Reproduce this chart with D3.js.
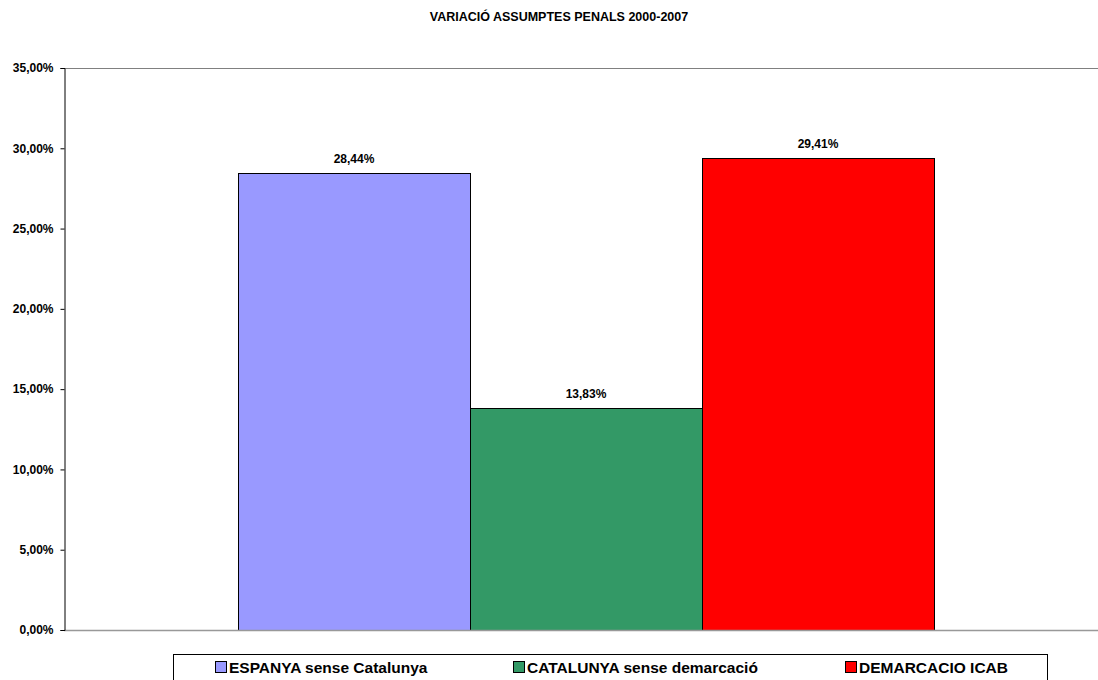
<!DOCTYPE html>
<html><head><meta charset="utf-8">
<script src="https://cdn.jsdelivr.net/npm/d3@7"></script>
<style>body{margin:0;background:#fff;}svg{display:block;font-family:Arial,"Liberation Sans",sans-serif;}</style>
</head><body>
<svg id="c" width="1098" height="680"></svg>
<script>
const title = "VARIACIÓ ASSUMPTES PENALS 2000-2007";
const categories = [""];
const series = ["ESPANYA sense Catalunya", "CATALUNYA sense demarcació", "DEMARCACIO ICAB"];
const values = [28.44, 13.83, 29.41];
const colors = ["#9999FF", "#339966", "#FF0000"];
const yTicks = [0, 5, 10, 15, 20, 25, 30, 35];

const svg = d3.select("#c");
const m = {left: 64, right: 1108, top: 68, bottom: 630};
const fmt = v => d3.format(".2f")(v).replace(".", ",") + "%";

const y = d3.scaleLinear().domain([0, 35]).range([m.bottom, m.top]);
const x0 = d3.scaleBand().domain(categories).range([m.left, m.right]).paddingInner(0).paddingOuter(0.25);
const x1 = d3.scaleBand().domain(series).range([0, x0.bandwidth()]).padding(0);

svg.append("text").attr("x", 559).attr("y", 21).attr("text-anchor", "middle")
  .attr("font-size", 12.5).attr("font-weight", "bold").text(title);

// top border line
svg.append("line").attr("x1", m.left).attr("x2", 1098).attr("y1", y(35) + 0.5).attr("y2", y(35) + 0.5)
  .attr("stroke", "#808080").attr("stroke-width", 1);

const g = svg.append("g");
categories.forEach(c => {
  series.forEach((s, i) => {
    const bx = x0(c) + x1(s);
    g.append("rect").attr("x", Math.round(bx) + 0.5).attr("y", Math.round(y(values[i])) + 0.5)
      .attr("width", Math.round(x1.bandwidth())).attr("height", Math.round(y(0) - y(values[i])))
      .attr("fill", colors[i]).attr("stroke", "#000").attr("stroke-width", 1);
    g.append("text").attr("x", bx + x1.bandwidth() / 2).attr("y", y(values[i]) - 10)
      .attr("text-anchor", "middle").attr("font-size", 12).attr("font-weight", "bold")
      .attr("fill", "#000").text(fmt(values[i]));
  });
});

// bottom axis line
svg.append("line").attr("x1", m.left).attr("x2", 1098).attr("y1", m.bottom + 0.5).attr("y2", m.bottom + 0.5)
  .attr("stroke", "#999").attr("stroke-width", 1.5);

const ya = svg.append("g").attr("transform", `translate(${m.left + 0.5},0)`)
  .call(d3.axisLeft(y).tickValues(yTicks).tickSize(4).tickPadding(7).tickFormat(d => fmt(d)));
ya.select(".domain").attr("stroke", "#000");
ya.selectAll(".tick line").attr("stroke", "#000");
ya.selectAll("text").attr("font-size", 12).attr("font-weight", "bold").attr("font-family", "Arial, 'Liberation Sans', sans-serif").attr("fill", "#000");

// legend
const lg = svg.append("g");
lg.append("rect").attr("x", 173.5).attr("y", 654.5).attr("width", 874).attr("height", 40)
  .attr("fill", "#fff").attr("stroke", "#000").attr("stroke-width", 1);
const lx = [215, 513, 845];
series.forEach((s, i) => {
  lg.append("rect").attr("x", lx[i] + 0.5).attr("y", 661.5).attr("width", 11).attr("height", 11)
    .attr("fill", colors[i]).attr("stroke", "#000").attr("stroke-width", 1);
  lg.append("text").attr("x", lx[i] + 14).attr("y", 673).attr("font-size", 15.5).attr("font-weight", "bold")
    .attr("fill", "#000").text(s);
});
</script>
</body></html>
